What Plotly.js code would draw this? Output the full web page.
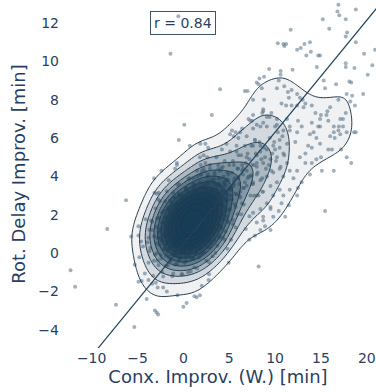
<!DOCTYPE html>
<html>
<head>
<meta charset="utf-8">
<script src="https://cdn.plot.ly/plotly-3.0.1.min.js"></script>
<style>
  html, body { margin: 0; padding: 0; background: #fff; }
  #chart { width: 376px; height: 392px; }
</style>
</head>
<body>
<div id="chart"></div>
<script>
// Connection improvement (W.) vs rotation delay improvement, both in minutes.
// Bulk of the flights, clustered around the origin.
const corePoints = [
  [-4.6,0.6],
  [-3.7,0.1],[-3.4,1.2],[-3.8,0.8],[-3.2,-0.4],[-3.5,1.7],
  [-2.3,-1.0],[-2.8,-0.4],[-2.5,-0.1],[-2.1,0.2],[-2.9,0.5],[-2.4,0.7],[-2.6,0.8],[-2.2,0.9],[-2.7,1.1],[-2.45,1.3],
  [-2.15,1.6],[-2.85,1.8],[-2.35,2.1],[-2.55,2.7],
  [-1.1,-1.06],[-1.9,-0.66],[-1.4,-0.41],[-1.6,-0.21],[-1.25,-0.06],[-1.75,0.09],[-1.5,0.24],[-1.05,0.34],[-1.85,0.44],[-1.3,0.54],
  [-1.65,0.64],[-1.15,0.74],[-1.45,0.84],[-1.95,0.94],[-1.35,1.01],[-1.55,1.08],[-1.2,1.16],[-1.8,1.24],[-1.7,1.34],[-1.4,1.44],
  [-1.0,1.54],[-1.6,1.64],[-1.3,1.74],[-1.9,1.86],[-1.15,1.99],[-1.5,2.14],[-1.75,2.29],[-1.25,2.49],[-1.45,2.74],[-1.1,3.14],
  [-0.1,-1.1],[-0.9,-0.6],[-0.5,-0.4],[-0.3,-0.2],[-0.7,-0.1],[-0.2,0.0],[-0.8,0.1],[-0.4,0.2],[-0.6,0.3],[-0.05,0.4],
  [-0.95,0.4],[-0.35,0.5],[-0.65,0.6],[-0.15,0.6],[-0.85,0.7],[-0.45,0.7],[-0.55,0.8],[-0.25,0.9],[-0.75,0.9],[-0.5,1.0],
  [-0.3,1.0],[-0.7,1.1],[-0.1,1.1],[-0.9,1.2],[-0.4,1.2],[-0.6,1.3],[-0.2,1.3],[-0.8,1.4],[-0.5,1.4],[-0.35,1.5],
  [-0.65,1.5],[-0.15,1.6],[-0.85,1.6],[-0.45,1.7],[-0.55,1.7],[-0.25,1.8],[-0.75,1.9],[-0.05,1.9],[-0.95,2.0],[-0.5,2.1],
  [-0.2,2.1],[-0.6,2.2],[-0.4,2.3],[-0.8,2.4],[-0.3,2.5],[-0.7,2.6],[-0.1,2.7],[-0.9,2.9],[-0.5,3.1],[-0.45,3.6],
  [0.5,-1.0],[0.1,-0.5],[0.9,-0.3],[0.3,-0.2],[0.7,0.0],[0.2,0.1],[0.8,0.2],[0.4,0.3],[0.6,0.35],[0.05,0.4],
  [0.95,0.5],[0.35,0.5],[0.65,0.6],[0.15,0.7],[0.85,0.7],[0.45,0.8],[0.55,0.8],[0.25,0.9],[0.75,0.9],[0.5,1.0],
  [0.3,1.0],[0.7,1.05],[0.1,1.1],[0.9,1.1],[0.4,1.2],[0.6,1.2],[0.2,1.3],[0.8,1.3],[0.5,1.3],[0.35,1.4],[0.65,1.4],
  [0.15,1.5],[0.85,1.5],[0.45,1.5],[0.55,1.6],[0.25,1.6],[0.75,1.7],[0.05,1.7],[0.95,1.8],[0.5,1.8],[0.2,1.8],
  [0.6,1.9],[0.4,1.9],[0.8,2.0],[0.3,2.0],[0.7,2.1],[0.1,2.1],[0.9,2.2],[0.5,2.2],[0.35,2.3],[0.65,2.3],
  [0.15,2.4],[0.85,2.5],[0.45,2.5],[0.55,2.6],[0.25,2.7],[0.75,2.8],[0.05,2.9],[0.95,3.0],[0.5,3.2],[0.3,3.4],[0.7,3.9],
  [1.5,-0.8],[1.1,-0.3],[1.9,-0.1],[1.3,0.0],[1.7,0.2],[1.2,0.3],[1.8,0.4],[1.4,0.5],[1.6,0.55],[1.05,0.6],
  [1.95,0.7],[1.35,0.7],[1.65,0.8],[1.15,0.9],[1.85,0.9],[1.45,1.0],[1.55,1.0],[1.25,1.1],[1.75,1.1],[1.5,1.2],
  [1.3,1.25],[1.7,1.3],[1.1,1.3],[1.9,1.4],[1.4,1.4],[1.6,1.5],[1.2,1.5],[1.8,1.5],[1.5,1.6],[1.35,1.6],
  [1.65,1.7],[1.15,1.7],[1.85,1.7],[1.45,1.8],[1.55,1.9],[1.25,1.9],[1.75,2.0],[1.05,2.0],[1.95,2.0],[1.5,2.1],
  [1.2,2.1],[1.6,2.2],[1.4,2.3],[1.8,2.3],[1.3,2.4],[1.7,2.4],[1.1,2.5],[1.9,2.5],[1.5,2.6],[1.35,2.7],
  [1.65,2.7],[1.15,2.8],[1.85,2.9],[1.45,3.0],[1.55,3.1],[1.25,3.2],[1.75,3.4],[1.05,3.6],[1.95,4.1],
  [2.5,-0.4],[2.1,0.0],[2.9,0.3],[2.3,0.5],[2.7,0.6],[2.2,0.7],[2.8,0.8],[2.4,0.9],[2.6,1.0],[2.05,1.1],
  [2.95,1.2],[2.35,1.2],[2.65,1.3],[2.15,1.4],[2.85,1.4],[2.45,1.5],[2.55,1.6],[2.25,1.6],[2.75,1.7],[2.5,1.8],[2.3,1.8],
  [2.7,1.9],[2.1,1.9],[2.9,2.0],[2.4,2.1],[2.6,2.1],[2.2,2.2],[2.8,2.2],[2.5,2.3],[2.35,2.4],[2.65,2.4],
  [2.15,2.5],[2.85,2.6],[2.45,2.7],[2.55,2.8],[2.25,2.9],[2.75,3.0],[2.05,3.1],[2.95,3.2],[2.5,3.4],[2.3,3.6],[2.7,4.1],
  [3.5,0.0],[3.1,0.5],[3.9,0.8],[3.3,1.0],[3.7,1.2],[3.2,1.3],[3.8,1.5],[3.4,1.6],[3.6,1.7],[3.05,1.8],[3.95,1.9],[3.5,2.0],
  [3.35,2.2],[3.65,2.3],[3.15,2.4],[3.85,2.5],[3.45,2.6],[3.55,2.8],[3.25,2.9],[3.75,3.1],[3.1,3.3],[3.9,3.6],[3.4,4.1],
  [4.5,0.7],[4.1,1.3],[4.8,1.7],[4.3,2.0],[4.6,2.2],[4.2,2.5],[4.9,2.8],[4.4,3.2],[4.7,3.8],
  [5.4,1.5],[5.7,2.4],[5.2,3.3],
  [6.4,2.6]
];

// Wider shoulder of the same cluster (x and y listed column by column).
const shoulderX = [
  -5.3,-5.7,
  -4.2,-4.8,-4.4,-4.9,-4.1,
  -3.3,-3.8,-3.1,-3.6,-3.9,-3.2,-3.7,-3.4,-3.05,
  -2.2,-2.7,-2.4,-2.9,-2.1,-2.6,-2.3,-2.8,-2.05,-2.5,-2.95,-2.35,-2.65,-2.15,-2.75,
  -1.2,-1.7,-1.4,-1.9,-1.1,-1.6,-1.3,-1.8,-1.05,-1.5,-1.95,-1.35,-1.65,-1.15,-1.75,-1.45,-1.25,-1.85,-1.55,-1.0,-1.6,-1.3,-1.8,
  -0.2,-0.7,-0.4,-0.9,-0.1,-0.6,-0.3,-0.8,-0.05,-0.5,-0.95,-0.35,-0.65,-0.15,-0.75,-0.45,-0.25,-0.85,-0.55,-0.02,-0.6,-0.3,-0.8,-0.1,-0.7,-0.4,-0.9,-0.2,-0.5,-0.65,
  0.8,0.3,0.6,0.1,0.9,0.4,0.7,0.2,0.95,0.5,0.05,0.65,0.35,0.85,0.25,0.55,0.75,0.15,0.45,0.8,0.3,0.6,0.1,0.9,0.4,0.7,0.2,0.95,0.5,0.05,0.65,0.35,0.85,0.25,0.55,
  1.2,1.7,1.4,1.9,1.1,1.6,1.3,1.8,1.05,1.5,1.95,1.35,1.65,1.15,1.75,1.45,1.25,1.85,1.2,1.7,1.4,1.9,1.1,1.6,1.3,1.8,1.05,1.5,1.95,1.35,1.65,1.15,1.75,1.45,1.25,1.85,
  2.8,2.3,2.6,2.1,2.9,2.4,2.7,2.2,2.95,2.5,2.05,2.65,2.35,2.85,2.25,2.55,2.75,2.15,2.45,2.8,2.3,2.6,2.1,2.9,2.4,2.7,2.2,2.95,2.5,2.05,2.65,2.35,
  3.2,3.7,3.4,3.9,3.1,3.6,3.3,3.8,3.05,3.5,3.95,3.35,3.65,3.15,3.75,3.45,3.25,3.85,3.2,3.7,3.4,3.9,3.1,3.6,3.3,3.8,
  4.8,4.3,4.6,4.1,4.9,4.4,4.7,4.2,4.95,4.5,4.05,4.65,4.35,4.85,4.25,4.55,4.75,4.15,
  5.2,5.7,5.4,5.9,5.1,5.6,5.3,5.8,5.05,5.5,5.95,
  6.8,6.3,6.6,6.1,6.9,6.4,
  7.2,7.7,7.4,
  8.6
];
const shoulderY = [
  -0.61,0.87,
  -1.06,-0.22,0.35,0.92,1.76,
  -1.18,-0.5,-0.08,0.26,0.57,0.88,1.22,1.64,2.32,
  -1.22,-0.62,-0.28,-0.01,0.22,0.42,0.6,0.79,0.98,1.16,1.36,1.59,1.86,2.2,2.8,
  -1.21,-0.65,-0.34,-0.12,0.06,0.23,0.38,0.51,0.65,0.77,0.89,1.01,1.13,1.25,1.37,1.51,1.64,1.79,1.96,2.14,2.36,2.67,3.23,
  -1.11,-0.57,-0.29,-0.08,0.09,0.24,0.37,0.49,0.6,0.7,0.8,0.9,1.0,1.09,1.19,1.27,1.37,1.46,1.56,1.66,1.76,1.86,1.97,2.09,2.22,2.37,2.54,2.75,3.03,3.57,
  -0.96,-0.44,-0.17,0.04,0.21,0.34,0.47,0.58,0.68,0.78,0.88,0.97,1.04,1.13,1.21,1.3,1.37,1.45,1.53,1.6,1.69,1.77,1.86,1.93,2.02,2.12,2.22,2.32,2.43,2.56,2.69,2.86,3.07,3.34,3.86,
  -0.75,-0.23,0.04,0.24,0.4,0.55,0.68,0.79,0.89,0.99,1.09,1.17,1.25,1.34,1.41,1.48,1.56,1.64,1.7,1.78,1.86,1.93,2.0,2.09,2.17,2.25,2.35,2.45,2.55,2.66,2.79,2.94,3.1,3.3,3.57,4.09,
  -0.48,0.04,0.32,0.53,0.69,0.83,0.97,1.08,1.19,1.28,1.38,1.48,1.57,1.67,1.76,1.85,1.93,2.02,2.11,2.21,2.3,2.4,2.5,2.59,2.7,2.81,2.95,3.09,3.25,3.46,3.74,4.26,
  -0.17,0.38,0.68,0.9,1.08,1.23,1.37,1.49,1.61,1.72,1.85,1.94,2.05,2.17,2.28,2.37,2.5,2.61,2.73,2.85,2.99,3.14,3.32,3.54,3.84,4.39,
  0.23,0.81,1.13,1.38,1.59,1.77,1.93,2.1,2.25,2.41,2.56,2.73,2.89,3.07,3.28,3.53,3.85,4.43,
  0.69,1.34,1.72,2.03,2.3,2.55,2.8,3.07,3.38,3.76,4.41,
  1.25,2.03,2.54,3.0,3.51,4.29,
  1.92,2.99,4.06,
  3.2
];

// Overlapping points along the diagonal band above the cluster.
const bandPoints = [
  [3.2,2.8],[3.6,3.3],[4.1,3.1],[4.5,3.6],[3.9,3.9],[4.8,4.2],[3.4,4.2],[4.3,4.5],[5.0,3.3],[4.6,2.8],
  [3.7,2.6],[4.0,3.5],[4.9,3.8],[3.3,3.7],[4.4,4.0],[5.0,4.6],[3.8,4.6],[4.2,2.7],[4.7,3.2],[3.5,3.0],
  [5.2,3.4],[5.6,3.9],[6.1,3.6],[6.5,4.1],[5.9,4.4],[6.8,4.7],[5.4,4.8],[6.3,5.1],[7.0,3.9],[6.6,3.4],
  [5.7,3.1],[6.0,4.0],[6.9,4.3],[5.3,4.2],[6.4,4.6],[7.0,5.2],[5.8,5.3],[6.2,3.2],[6.7,3.7],[5.5,3.6],
  [7.3,4.0],[7.7,4.6],[8.1,4.2],[8.5,4.9],[7.9,5.2],[8.8,5.5],[7.4,5.6],[8.3,5.8],[9.0,4.4],[8.6,3.9],
  [7.6,3.6],[8.0,4.7],[8.9,5.0],[7.2,4.9],[8.4,5.3],[7.8,5.9],
  [9.3,4.6],[9.7,5.2],[10.1,4.8],[10.5,5.5],[9.9,5.8],[10.8,6.1],[9.4,6.0],[10.3,6.3],[11.0,5.1],[10.6,4.5],
  [9.6,4.3],[10.0,5.4],
  [1.3,3.3],[1.8,3.7],[2.2,3.4],[2.6,4.0],[2.0,4.3],[2.9,4.4],[1.5,4.0],[2.4,4.7],[3.0,3.8],[2.7,3.2],
  [1.1,3.9],[1.9,4.6]
];

// Broad tail towards large improvements on both axes.
const tailPoints = [
  [16.9,12.95],[16.8,12.6],[17.0,12.4],[18.8,12.7],[15.2,12.2],[17.7,12.2],[11.7,11.65],[15.9,11.7],[17.85,11.5],[17.7,11.3],
  [10.3,10.95],[10.9,10.9],[11.2,10.9],[11.0,10.8],[13.2,10.9],[13.8,11.0],[12.4,10.6],[12.8,10.7],[13.9,10.5],[13.4,10.3],
  [14.7,10.3],[14.9,10.3],[18.8,11.0],[19.7,10.4],[20.9,10.6],[17.7,9.9],[17.7,9.7],[14.55,9.7],[18.65,9.65],[20.6,9.8],
  [11.9,9.56],[10.6,9.5],[9.35,9.6],[8.8,9.2],[8.3,9.1],[8.0,8.9],[15.3,9.0],[16.65,8.8],[18.1,8.95],[18.3,8.9],
  [20.1,9.3],[15.45,8.6],[17.8,8.3],[18.4,8.2],[19.6,8.3],[16.9,8.0],[18.2,7.9],[18.7,7.7],[16.0,7.6],[17.7,7.3],
  [17.1,7.0],[15.0,7.2],[15.7,7.4],[16.4,6.6],[16.95,6.6],
  [10.6,9.3],[10.4,9.0],[10.2,8.6],[11.0,8.7],[11.8,8.5],[11.4,8.4],[11.5,8.1],[12.4,8.3],[12.7,8.1],[13.0,8.0],
  [12.4,7.7],[13.3,7.8],[10.7,7.8],[11.2,7.7],[11.8,7.7],[13.1,7.6],[14.0,7.7],[14.4,7.3],[14.9,7.0],[15.6,7.2],
  [15.8,6.9],[8.7,7.5],[8.6,7.3],[9.6,7.3],[9.4,7.1],[7.6,7.2],[7.5,6.9],[8.0,6.7],[8.7,6.8],[10.2,7.0],
  [11.3,7.0],[12.5,6.9],[12.9,6.6],[14.0,6.8],[14.7,6.6],[11.6,6.6],[10.0,6.6],
  [17.4,6.6],[16.9,6.4],[17.1,6.2],[17.8,6.3],[18.6,6.3],[16.4,6.3],[16.0,6.1],[16.5,6.0],[15.8,5.4],[16.2,5.4],
  [17.2,5.4],[17.8,5.0],[18.3,4.7],[16.4,4.3],[15.0,5.0],[15.1,4.3],[18.8,6.3],[17.4,7.0],
  [14.9,6.6],[14.2,6.3],[13.8,6.2],[14.5,6.0],[14.9,5.7],[13.6,5.6],[14.0,5.5],[13.3,5.2],[14.5,4.9],[14.0,4.7],
  [12.7,5.0],[13.3,4.7],[12.4,4.3],[13.8,4.1],[12.0,3.9],[12.9,3.7],[12.5,3.4],[11.6,3.3],[10.9,3.0],[12.4,3.0],
  [10.7,2.6],[11.5,2.5],[10.4,2.2],[9.8,1.9],[11.1,1.9],[8.9,1.4],[8.7,1.7],[9.5,2.4],[9.5,1.2],
  [9.1,6.6],[10.2,6.7],[10.9,6.4],[11.6,6.4],[12.4,6.3],[12.2,5.8],[11.3,5.7],[10.5,5.9],[9.8,5.6],[9.1,5.4],
  [8.4,5.6],[7.8,5.9],[10.9,5.2],[10.2,5.0],[9.5,4.9],[8.7,4.7],[8.0,4.5],[11.3,4.7],[10.5,4.4],[9.8,4.2],
  [9.1,4.0],[8.4,3.8],[7.6,3.7],[11.6,4.3],[10.9,4.0],[10.2,3.7],[9.5,3.5],[8.7,3.2],[8.0,3.0],[10.5,3.3],
  [9.8,3.0],[9.1,2.6],[8.4,2.3],[7.6,2.1],[9.5,2.3],[8.7,1.9],[8.0,1.6],[8.4,1.2],[7.8,0.9],
  [5.3,6.4],[5.7,6.3],[6.4,6.5],[5.1,6.2],[6.0,6.0],[6.9,6.1],[7.3,6.9],[7.6,6.5],[4.7,5.7],[5.8,5.6],
  [6.7,5.6],[7.6,5.6],[4.2,5.4],[5.1,5.3],[6.0,5.1],[6.9,5.0],[8.0,5.1],[3.6,5.0],[4.5,4.8],[5.5,4.6],
  [6.5,4.4],[7.5,4.6],[4.0,4.3],[4.9,4.1],[6.0,3.9],[7.1,4.0],[8.0,4.1],[4.4,3.7],[5.5,3.5],[6.5,3.4],
  [7.5,3.6],[5.1,3.0],[6.2,2.9],[7.3,3.0],[8.2,3.0],[4.0,2.9],[3.3,3.2],[2.6,3.6],[2.7,2.9],[1.8,3.0],
  [1.1,3.4],[0.7,2.9],[-0.2,3.0],[-1.1,2.9],[-2.0,2.7],
  [2.4,5.7],[2.7,5.5],[2.2,5.1],[1.8,5.0],[2.6,5.0],[1.5,4.3],[2.2,4.4],[2.9,4.6],
  [8.2,8.8],[8.55,8.6],[8.8,8.0],[7.6,8.0],[7.1,7.0],[8.7,7.4],[9.1,7.1],[8.4,6.6],[6.2,6.3],[5.5,6.1]
];

// Scattered points away from the bulk.
const sparsePoints = [
  [-0.55,12.35],[-1.4,10.4],[4.0,8.55],[6.7,8.45],[7.0,8.45],[3.1,7.2],[0.1,6.7],[0.7,5.6],[1.85,5.7],[-3.2,3.9],
  [-0.7,4.7],[-0.5,5.9],[-2.4,4.3],[-0.9,4.4],[-0.7,4.6],[-1.6,3.8],
  [-3.15,3.15],[-2.9,3.1],[-2.7,3.15],[-6.25,2.75],[-8.3,1.25],[-12.3,-0.9],[-11.8,-1.75],[-7.35,-2.7],[-5.35,-3.85],
  [-2.9,-3.1],[-2.75,-3.2],[-3.1,-3.0],[-4.0,-2.4],[-4.9,-1.5],[-4.55,-1.45],[-3.8,-1.4],[-3.0,-1.55],[-3.4,-1.6],
  [-2.8,-1.8],[-2.2,-1.8],[-1.8,-2.0],[-0.65,-2.2],[0.0,-2.8],[0.35,-2.6],[1.2,-2.25],[1.45,-2.3],[1.8,-2.2],
  [2.0,-1.7],[2.8,-1.1],[2.75,-1.4],[4.95,-0.5],[8.2,-0.7],[7.2,0.7],[15.45,2.2],[-4.9,1.4],[-13.7,-0.2]
];

// Fitted line and correlation shown in the box.
const fitSlope = 0.584;
const fitIntercept = 0.47;
const corrText = 'r = 0.84';

const xRange = [-13.45, 21.0];
const yRange = [-4.95, 13.2];

const nShoulder = Math.min(shoulderX.length, shoulderY.length);
const shoulderPoints = shoulderX.slice(0, nShoulder).map((v, i) => [v, shoulderY[i]]);
const allPoints = corePoints.concat(shoulderPoints, bandPoints, tailPoints, sparsePoints);
const px = allPoints.map(p => p[0]);
const py = allPoints.map(p => p[1]);

// Gaussian kernel density estimate on a regular grid (mildly compressed scale).
const bwX = 1.5, bwY = 0.85;
const gx = [], gy = [];
for (let v = -15; v <= 23; v += 0.3) gx.push(+v.toFixed(2));
for (let v = -6.5; v <= 14.5; v += 0.18) gy.push(+v.toFixed(2));
const z = gy.map(yv => gx.map(xv => {
  let s = 0;
  for (let k = 0; k < px.length; k++) {
    const dx = (xv - px[k]) / bwX, dy = (yv - py[k]) / bwY;
    const e = 0.5 * (dx * dx + dy * dy);
    if (e < 12) s += Math.exp(-e);
  }
  return Math.pow(s, 0.8);
}));
let zMax = 0;
z.forEach(r => r.forEach(v => { if (v > zMax) zMax = v; }));
const nLevels = 13;
const cStart = 0.11 * zMax;
const cSize = (0.95 * zMax - cStart) / (nLevels - 1);

const ink = '#2a3f5f';
const font = 'DejaVu Sans, Verdana, sans-serif';

const traces = [
  {
    type: 'scatter', mode: 'markers',
    x: px, y: py,
    marker: { size: 4, color: 'rgb(100,125,145)', opacity: 0.6 },
    hoverinfo: 'skip'
  },
  {
    type: 'contour',
    xaxis: 'x2', yaxis: 'y2',
    x: gx, y: gy, z: z,
    autocontour: false,
    contours: { start: cStart, end: cStart + cSize * (nLevels - 1) + 1e-9, size: cSize, coloring: 'fill' },
    colorscale: [[0, 'rgba(22,60,86,0)'], [1, 'rgba(22,60,86,0.86)']],
    showscale: false,
    line: { color: 'rgb(40,62,80)', width: 1, smoothing: 1 },
    hoverinfo: 'skip'
  },
  {
    type: 'scatter', mode: 'lines',
    xaxis: 'x2', yaxis: 'y2',
    x: [xRange[0] - 5, xRange[1] + 5],
    y: [fitIntercept + fitSlope * (xRange[0] - 5), fitIntercept + fitSlope * (xRange[1] + 5)],
    line: { color: '#24435a', width: 1.2 },
    hoverinfo: 'skip'
  }
];

const layout = {
  width: 376, height: 392,
  margin: { l: 60, r: 0, t: 0, b: 44 },
  paper_bgcolor: '#fff', plot_bgcolor: '#fff',
  showlegend: false,
  font: { family: font, size: 14, color: ink },
  xaxis: {
    range: xRange, showgrid: false, zeroline: false, showline: false, ticks: '',
    tickvals: [-10, -5, 0, 5, 10, 15, 20],
    tickfont: { size: 14, color: ink },
    title: { text: 'Conx. Improv. (W.) [min]', font: { size: 18, color: ink }, standoff: 4 }
  },
  yaxis: {
    range: yRange, showgrid: false, zeroline: false, showline: false, ticks: '',
    tickvals: [-4, -2, 0, 2, 4, 6, 8, 10, 12],
    tickfont: { size: 14, color: ink },
    title: { text: 'Rot. Delay Improv. [min]', font: { size: 18, color: ink }, standoff: 8 }
  },
  xaxis2: { overlaying: 'x', range: xRange, visible: false },
  yaxis2: { overlaying: 'y', range: yRange, visible: false },
  annotations: [{
    x: 0, y: 12, xref: 'x', yref: 'y',
    text: corrText, showarrow: false,
    font: { size: 14, color: ink },
    bordercolor: '#3d5466', borderwidth: 1, borderpad: 3,
    bgcolor: 'rgba(0,0,0,0)'
  }]
};

Plotly.newPlot('chart', traces, layout, { staticPlot: true, displayModeBar: false });
</script>
</body>
</html>
